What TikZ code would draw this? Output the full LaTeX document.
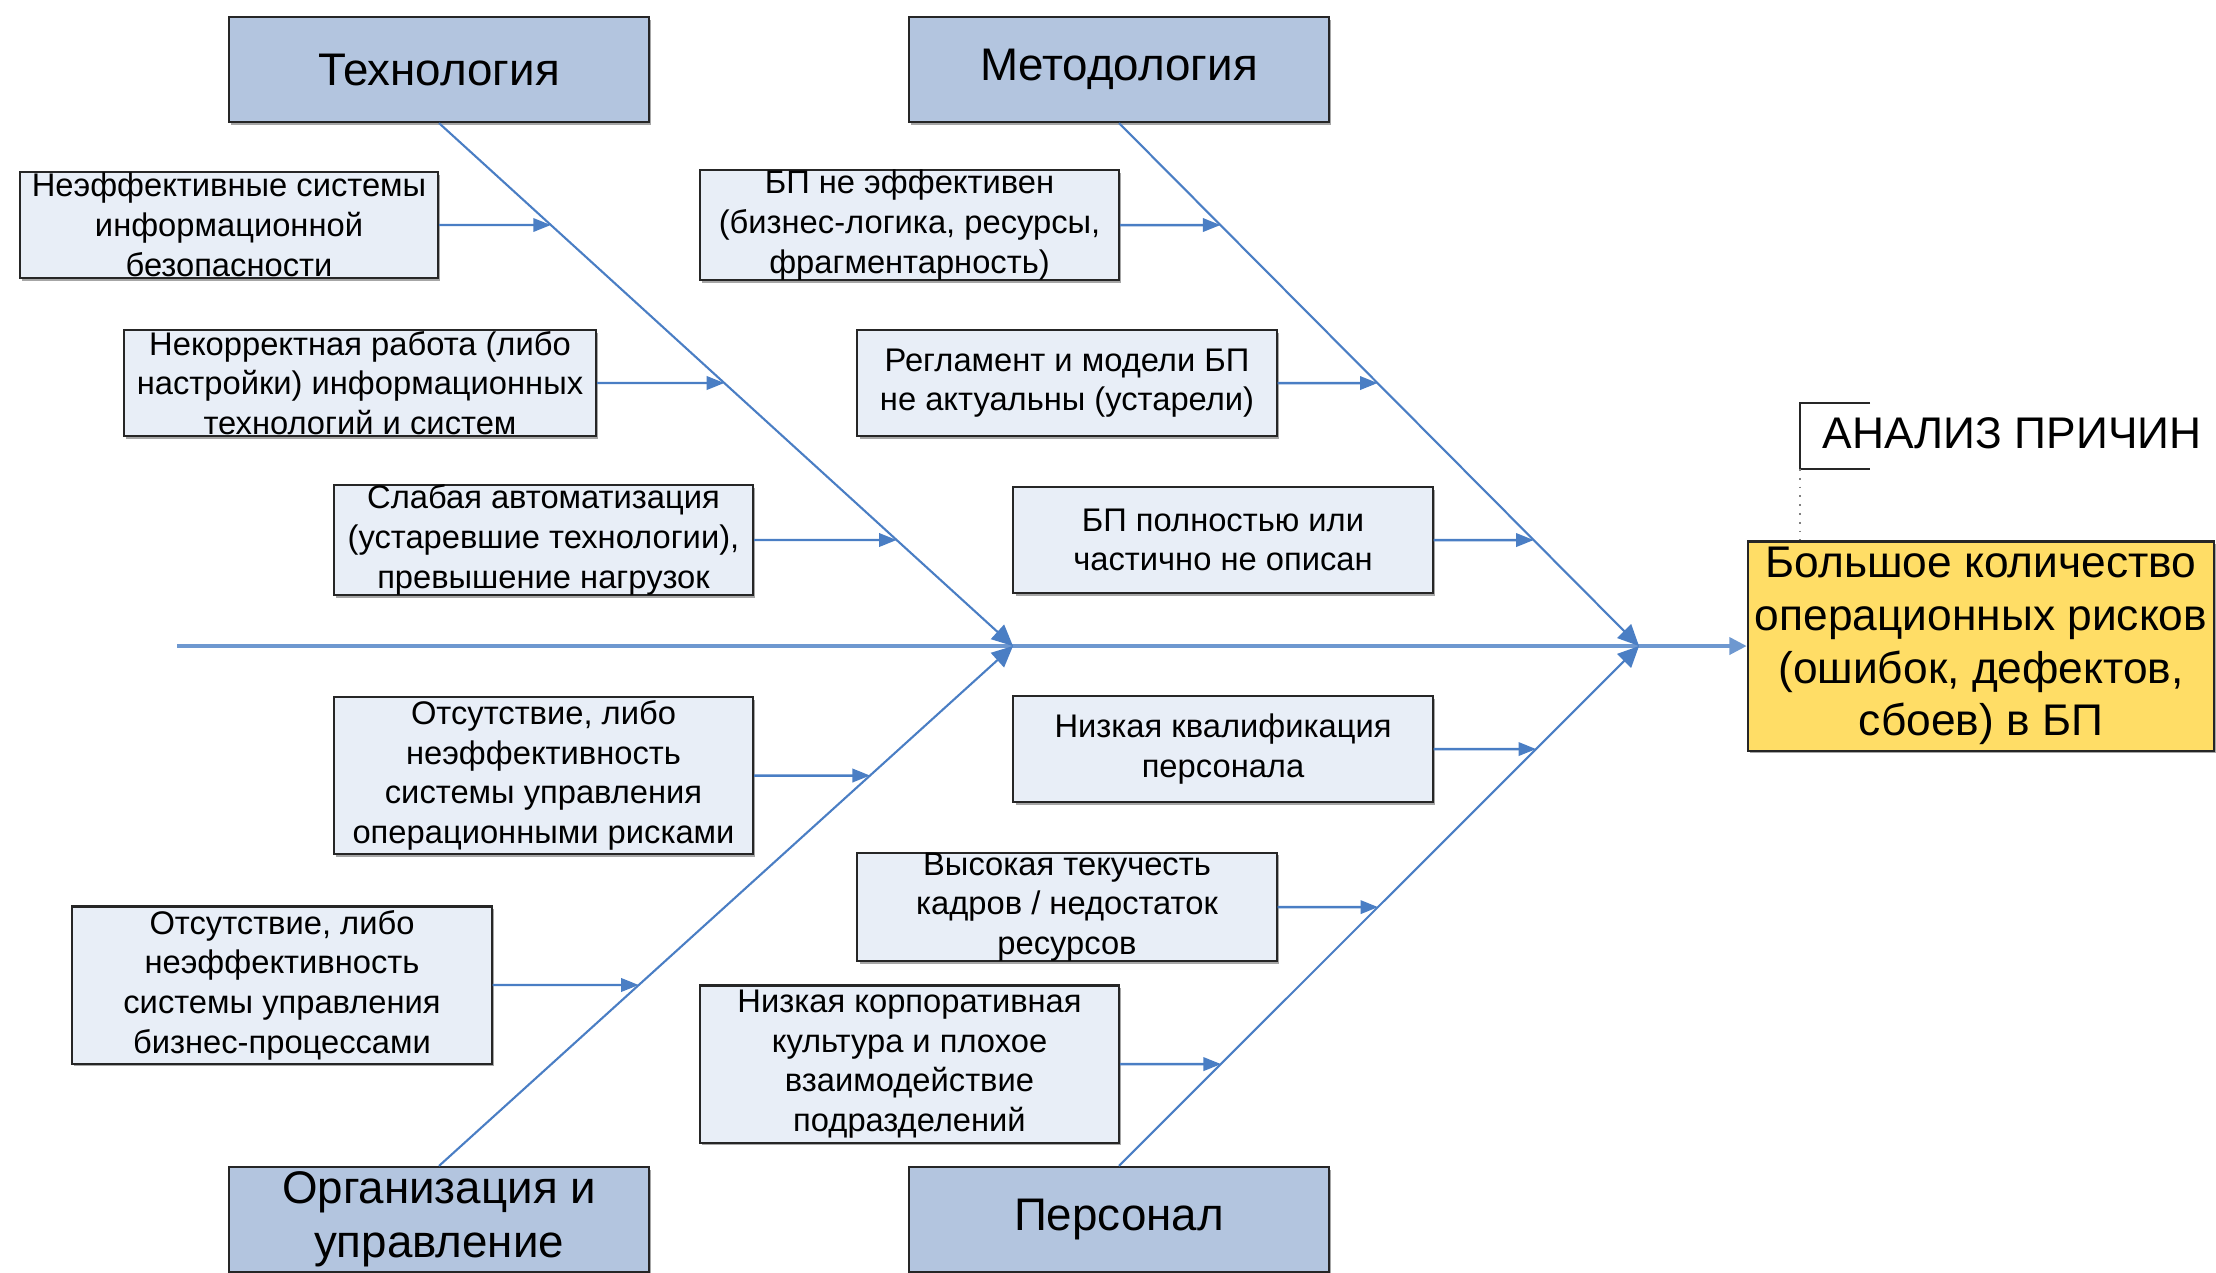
\documentclass[tikz,border=0pt]{standalone}
\usepackage{fontspec}
\setmainfont{Liberation Sans}
\usetikzlibrary{arrows.meta,shadows}
\definecolor{boneblue}{RGB}{74,126,196}
\definecolor{catfill}{RGB}{179,197,223}
\definecolor{causefill}{RGB}{232,238,247}
\definecolor{effectfill}{RGB}{255,221,102}
\begin{document}
\begin{tikzpicture}[x=0.01cm,y=-0.01cm,
  boxbase/.style={draw=black!85, line width=0.6pt, inner sep=0pt, align=center,
    drop shadow={shadow xshift=0.6pt, shadow yshift=-0.8pt, fill=black, opacity=0.35}},
  category/.style={boxbase, fill=catfill, minimum width=4.2cm, minimum height=1.05cm,
    font=\fontsize{13}{15.3}\selectfont},
  cause/.style={boxbase, fill=causefill, minimum width=4.19cm, minimum height=1.06cm,
    font=\fontsize{9.3}{11.3}\selectfont},
  tallcause/.style={cause, minimum height=1.57cm},
  effect/.style={boxbase, fill=effectfill, minimum width=4.66cm, minimum height=2.09cm,
    font=\fontsize{12.6}{15}\selectfont},
  bone/.style={draw=boneblue, line width=0.6pt, -{Triangle[length=6pt,width=5.5pt]}},
  leg/.style={draw=boneblue, line width=0.7pt, -{Triangle[length=5pt,width=3.8pt]}},
  spine/.style={draw=boneblue!80, line width=1.3pt}]
\useasboundingbox (0,0) rectangle (2216,1272);

% categories
\node[category] (tech) at (439,69.5) {Технология};
\node[category] (meth) at (1119,69.5) {Методология};
\node[category] (org)  at (439,1219.5) {Организация и\\управление};
\node[category] (pers) at (1119,1219.5) {Персонал};

% effect
\node[effect] (eff) at (1981,646) {Большое количество\\операционных рисков\\(ошибок, дефектов,\\сбоев) в БП};

% spine and junctions
\coordinate (tail) at (177,646);
\coordinate (j1) at (1013,646);
\coordinate (j2) at (1639,646);
\draw[spine, -{Triangle[length=5pt,width=4.8pt]}] (tail) -- (eff.west);

% main bones
\draw[bone] (tech.south) -- (j1);
\draw[bone] (org.north) -- (j1);
\draw[bone] (meth.south) -- (j2);
\draw[bone] (pers.north) -- (j2);

% causes: technology
\node[cause, minimum width=4.18cm] (c1) at (229,225) {Неэффективные системы\\информационной\\безопасности};
\node[cause, minimum width=4.72cm] (c2) at (360,383) {Некорректная работа (либо\\настройки) информационных\\технологий и систем};
\node[cause] (c3) at (543.5,540) {Слабая автоматизация\\(устаревшие технологии),\\превышение нагрузок};

% causes: methodology
\node[cause] (c4) at (909.5,225) {БП не эффективен\\(бизнес-логика, ресурсы,\\фрагментарность)};
\node[cause] (c5) at (1067,383) {Регламент и модели БП\\не актуальны (устарели)};
\node[cause] (c6) at (1223,540) {БП полностью или\\частично не описан};

% causes: organization
\node[tallcause] (c7) at (543.5,775.5) {Отсутствие, либо\\неэффективность\\системы управления\\операционными рисками};
\node[tallcause] (c8) at (282,985) {Отсутствие, либо\\неэффективность\\системы управления\\бизнес-процессами};

% causes: personnel
\node[cause] (c9) at (1223,749) {Низкая квалификация\\персонала};
\node[cause] (c10) at (1067,907) {Высокая текучесть\\кадров / недостаток\\ресурсов};
\node[tallcause] (c11) at (909.5,1064) {Низкая корпоративная\\культура и плохое\\взаимодействие\\подразделений};

% horizontal references for the cause arrows
\foreach \c in {c1,c2,c3,c7,c8} \coordinate (\c h) at (\c.east -| j1);
\foreach \c in {c4,c5,c6,c9,c10,c11} \coordinate (\c h) at (\c.east -| j2);

% cause arrows ending on their bones
\draw[leg] (c1) -- (intersection of c1.east--c1h and tech.south--j1);
\draw[leg] (c2) -- (intersection of c2.east--c2h and tech.south--j1);
\draw[leg] (c3) -- (intersection of c3.east--c3h and tech.south--j1);
\draw[leg] (c4) -- (intersection of c4.east--c4h and meth.south--j2);
\draw[leg] (c5) -- (intersection of c5.east--c5h and meth.south--j2);
\draw[leg] (c6) -- (intersection of c6.east--c6h and meth.south--j2);
\draw[leg] (c7) -- (intersection of c7.east--c7h and org.north--j1);
\draw[leg] (c8) -- (intersection of c8.east--c8h and org.north--j1);
\draw[leg] (c9) -- (intersection of c9.east--c9h and pers.north--j2);
\draw[leg] (c10) -- (intersection of c10.east--c10h and pers.north--j2);
\draw[leg] (c11) -- (intersection of c11.east--c11h and pers.north--j2);

% annotation
\node[anchor=base west, inner sep=0pt, font=\fontsize{12.6}{15}\selectfont] (note) at (1822,448) {АНАЛИЗ ПРИЧИН};
\coordinate (brk) at (1800,469);
\draw[black!85, line width=0.6pt] (1870,403) -- (1800,403) -- (brk) -- (1870,469);
\draw[black!50, dotted, line width=0.5pt] (brk) -- (brk |- eff.north);
\end{tikzpicture}
\end{document}
